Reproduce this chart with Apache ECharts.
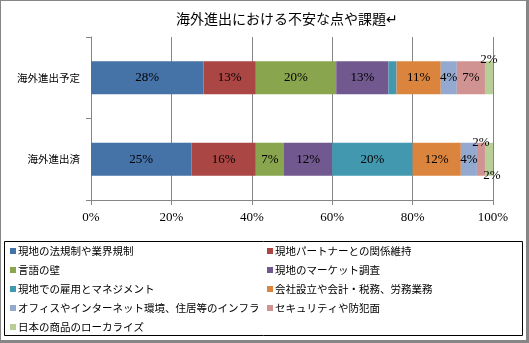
<!DOCTYPE html>
<html>
<head>
<meta charset="utf-8">
<script src="https://cdn.jsdelivr.net/npm/echarts@6/dist/echarts.min.js"></script>
<style>
html,body{margin:0;padding:0;background:#fff;}
#c{width:529px;height:343px;}
</style>
</head>
<body>
<div id="c"></div>
<script>
var titleText = '海外進出における不安な点や課題↵';
var categories = ['海外進出予定', '海外進出済'];
var seriesNames = [
  '現地の法規制や業界規制',
  '現地パートナーとの関係維持',
  '言語の壁',
  '現地のマーケット調査',
  '現地での雇用とマネジメント',
  '会社設立や会計・税務、労務業務',
  'オフィスやインターネット環境、住居等のインフラ',
  'セキュリティや防犯面',
  '日本の商品のローカライズ'
];
var planValues = [28, 13, 20, 13, 2, 11, 4, 7, 2];
var doneValues = [25, 16, 7, 12, 20, 12, 4, 2, 2];
var xTicks = [0, 20, 40, 60, 80, 100];

var colors = ['#4572A7','#AA4643','#89A54E','#71588F','#4198AF','#DB843D','#93A9CF','#D19392','#B9CD96'];
var serif = '"Liberation Serif", "DejaVu Serif", serif';
var gothic = '"Noto Sans CJK JP", sans-serif';

function labelFor(si, ci) {
  // ci 0: 予定, 1: 済
  if (ci === 0 && si === 4) return { show: false };
  if (ci === 0 && si === 8) return { position: 'top', distance: -5 };
  if (ci === 1 && si === 7) return { position: 'top', distance: -6 };
  if (ci === 1 && si === 8) return { position: 'bottom', distance: -7, offset: [3, 0] };
  return null;
}

var series = seriesNames.map(function (name, si) {
  var vals = [planValues[si], doneValues[si]];
  return {
    name: name,
    type: 'bar',
    stack: 'total',
    barWidth: 33,
    itemStyle: { color: colors[si] },
    label: {
      show: true,
      position: 'inside',
      formatter: '{c}%',
      color: '#000',
      fontFamily: serif,
      fontSize: 13
    },
    data: vals.map(function (v, ci) {
      var o = { value: v };
      var l = labelFor(si, ci);
      if (l) o.label = l;
      return o;
    })
  };
});

var col1 = seriesNames.filter(function (n, i) { return i % 2 === 0; });
var col2 = seriesNames.filter(function (n, i) { return i % 2 === 1; });
function legendCfg(data, left) {
  return {
    data: data,
    orient: 'vertical',
    left: left,
    top: 245,
    padding: 0,
    itemWidth: 6,
    itemHeight: 6,
    itemGap: 7,
    icon: 'rect',
    selectedMode: false,
    textStyle: { fontFamily: gothic, fontSize: 10.5, color: '#000', lineHeight: 12, padding: [0, 0, 0, -3] }
  };
}

var chart = echarts.init(document.getElementById('c'), null, { renderer: 'canvas' });
chart.setOption({
  animation: false,
  backgroundColor: '#fff',
  title: {
    text: titleText,
    left: 176,
    top: 12,
    padding: 0,
    textStyle: { fontFamily: gothic, fontSize: 14, fontWeight: 'normal', color: '#000' }
  },
  grid: { left: 91, right: 36, top: 37, bottom: 143, containLabel: false },
  xAxis: {
    type: 'value',
    min: xTicks[0],
    max: xTicks[xTicks.length - 1],
    interval: xTicks[1] - xTicks[0],
    axisLine: { show: true, lineStyle: { color: '#868686', width: 1 } },
    axisTick: { show: true, length: 5, lineStyle: { color: '#868686' } },
    splitLine: { show: true, lineStyle: { color: '#868686', width: 1 } },
    axisLabel: { formatter: '{value}%', color: '#000', fontFamily: serif, fontSize: 13, margin: 11 }
  },
  yAxis: {
    type: 'category',
    inverse: true,
    data: categories,
    axisLine: { show: true, lineStyle: { color: '#868686', width: 1 } },
    axisTick: { show: true, length: 5, lineStyle: { color: '#868686' } },
    axisLabel: { color: '#000', fontFamily: gothic, fontSize: 10.5, margin: 11 }
  },
  legend: [legendCfg(col1, 10), legendCfg(col2, 267)],
  graphic: [
    { type: 'rect', shape: { x: 4.5, y: 241.5, width: 518, height: 94 }, style: { fill: 'none', stroke: '#000', lineWidth: 1 }, z: 10 },
    { type: 'rect', shape: { x: 0, y: 0, width: 529, height: 1 }, style: { fill: '#868686' }, z: 10 },
    { type: 'rect', shape: { x: 0, y: 0, width: 1, height: 343 }, style: { fill: '#868686' }, z: 10 },
    { type: 'rect', shape: { x: 526, y: 0, width: 3, height: 343 }, style: { fill: '#868686' }, z: 10 },
    { type: 'rect', shape: { x: 0, y: 340, width: 529, height: 3 }, style: { fill: '#868686' }, z: 10 }
  ],
  series: series
});
</script>
</body>
</html>
